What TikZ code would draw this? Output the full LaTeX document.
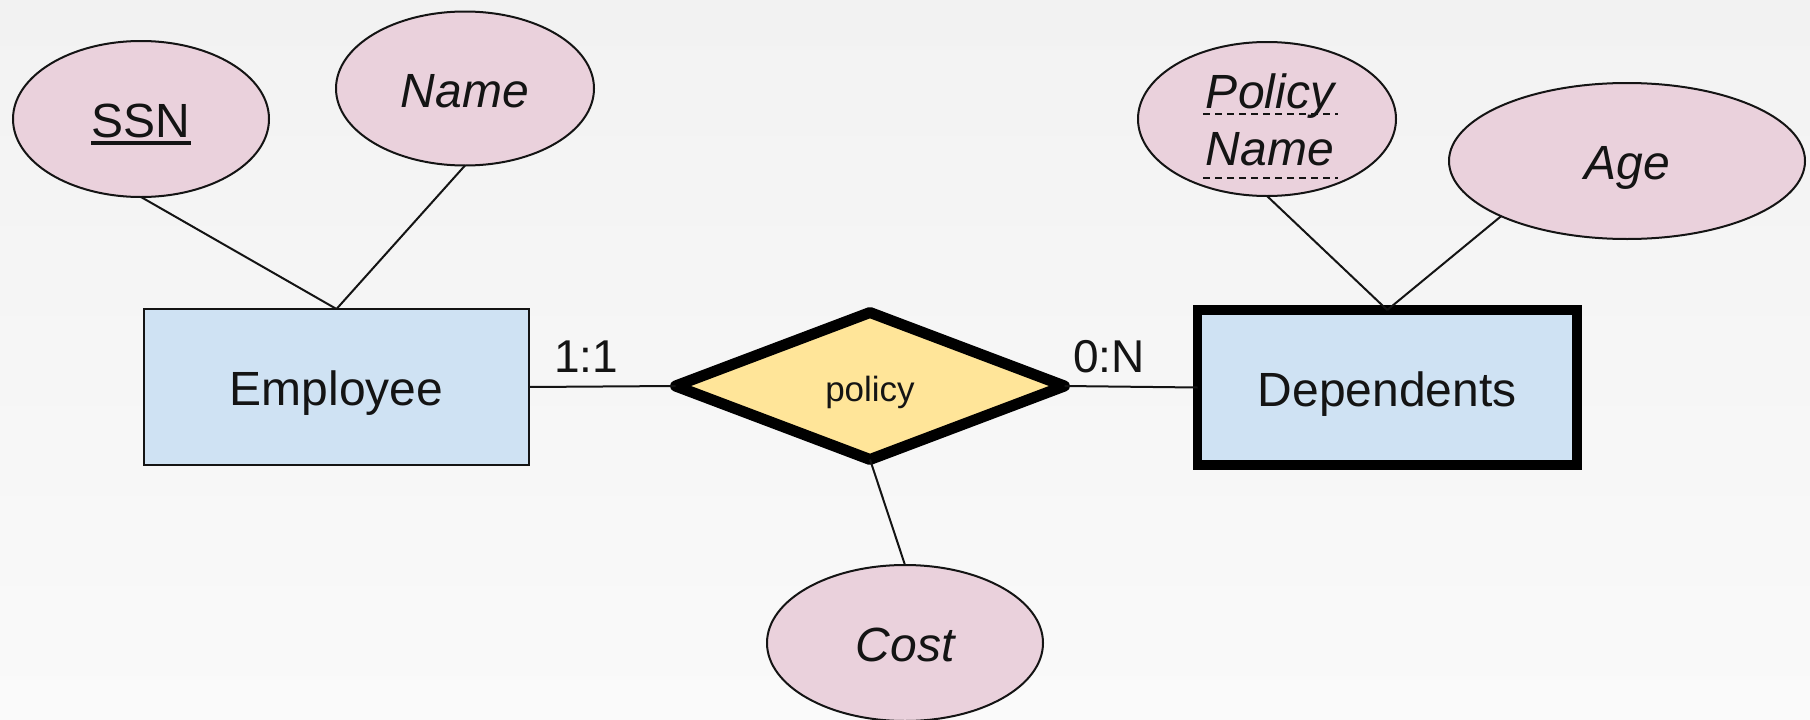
\documentclass[tikz,border=0pt]{standalone}
\usepackage{fontspec}
\setmainfont{Liberation Sans}
\usetikzlibrary{shapes.geometric}

\definecolor{attrfill}{HTML}{EAD1DC}
\definecolor{entfill}{HTML}{CFE2F3}
\definecolor{relfill}{HTML}{FFE599}
\definecolor{bgtop}{HTML}{F2F2F2}
\definecolor{bgbot}{HTML}{FAFAFA}
\definecolor{ink}{HTML}{141414}

\tikzset{
  txt/.style={text=ink, inner sep=0pt, outer sep=0pt,
    font=\fontsize{48}{56}\selectfont, text height=37.5pt, text depth=0pt},
  attr/.style={ellipse, draw=ink, line width=2pt, fill=attrfill, txt,
    font=\fontsize{48}{56}\selectfont\itshape},
  entity/.style={rectangle, draw=ink, line width=2pt, fill=entfill, txt},
  weakentity/.style={entity, draw=black, line width=9.5pt},
  relation/.style={diamond, draw=black, line width=11pt, line join=round,
    fill=relfill, txt, font=\fontsize{35}{42}\selectfont, text height=30pt},
  card/.style={txt, font=\fontsize{46}{54}\selectfont, text height=33pt},
  conn/.style={draw=ink, line width=2pt},
  keyline/.style={draw=ink, line width=3.3pt},
  partialkey/.style={draw=ink, line width=2pt, dash pattern=on 7pt off 5pt},
}

\begin{document}
\begin{tikzpicture}[x=1pt, y=-1pt]
  % page and soft vertical gradient
  \useasboundingbox (0,0) rectangle (1810,720);
  \shade[top color=bgtop, bottom color=bgbot] (0,0) rectangle (1810,720);

  % entities
  \node[entity, minimum width=385pt, minimum height=156pt] (emp) at (336.5,387) {Employee};
  \node[weakentity, minimum width=379.5pt, minimum height=155pt] (dep) at (1387.25,387.5) {Dependents};

  % relationship
  \node[relation, minimum width=389pt, minimum height=147pt] (rel) at (870,386) {policy};

  % attributes
  \node[attr, font=\fontsize{48}{56}\selectfont, minimum width=256pt, minimum height=156pt] (ssn) at (141,119) {SSN};
  \node[attr, minimum width=258pt, minimum height=154pt] (name) at (465,88.5) {Name};
  \node[attr, minimum width=258pt, minimum height=154pt] (pname) at (1267,119) {};
  \node[attr, minimum width=356pt, minimum height=156pt] (age) at (1627,161) {Age};
  \node[attr, minimum width=276pt, minimum height=156pt] (cost) at (905,643) {Cost};

  % two-line partial key text
  \node[txt, font=\fontsize{48}{56}\selectfont\itshape, anchor=base] (pnA) at (1270,108) {Policy};
  \node[txt, font=\fontsize{48}{56}\selectfont\itshape, anchor=base] (pnB) at (1270,165) {Name};

  % key underlines
  \draw[keyline] (91,143) -- (191,143);
  \draw[partialkey] (1203,114) -- (1338,114);
  \draw[partialkey] (1203,178) -- (1338,178);

  % connectors
  \draw[conn] (ssn.south) -- (emp.north);
  \draw[conn] (name.south) -- (emp.north);
  \draw[conn] (emp.east) -- (rel.west);
  \draw[conn] (rel.east) -- (dep.west);
  \draw[conn] (rel.south) -- (cost.north);
  \draw[conn] (pname.south) -- (dep.north);
  \draw[conn] (age.south west) -- (dep.north);

  % cardinalities
  \node[card] (c1) at (586,356) {1:1};
  \node[card] (c2) at (1109,356) {0:N};
\end{tikzpicture}
\end{document}
